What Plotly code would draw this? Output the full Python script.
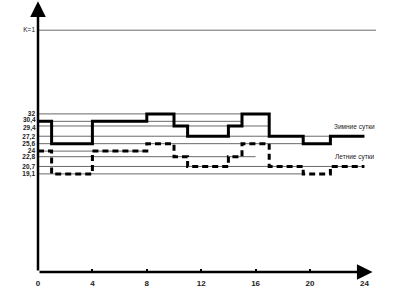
import plotly.graph_objects as go

# Data
hours = [0, 1, 4, 8, 10, 11, 14, 15, 17, 19.5, 21.5, 24]
winter = [30.4, 25.6, 30.4, 32, 29.4, 27.2, 29.4, 32, 27.2, 25.6, 27.2]
summer = [24, 19.1, 24, 25.6, 22.8, 20.7, 22.8, 25.6, 20.7, 19.1, 20.7]

grid_levels = [50, 32, 30.4, 29.4, 27.2, 25.6, 24, 22.8, 20.7, 19.1]
grid_ends = [24.85, 17, 15, 17, 24, 19.5, 8, 16, 24, 19.5]
# tick labels drawn by the axis
y_tick_vals = [50, 32, 27.2, 25.6, 24, 22.8, 20.7, 19.1]
y_tick_text = ["K=1", "<b>32</b>", "<b>27,2</b>", "<b>25,6</b>",
               "<b>24</b>", "<b>22,8</b>", "<b>20,7</b>", "<b>19,1</b>"]
# closely spaced labels placed with a small nudge so they do not collide
close_vals = [30.4, 29.4]
close_text = ["<b>30,4</b>", "<b>29,4</b>"]
close_nudge = [1.5, -2.0]
x_tick_vals = [0, 4, 8, 12, 16, 20, 24]
x_tick_text = ["<b>%d</b>" % v for v in x_tick_vals]

fig = go.Figure()

for lvl, end in zip(grid_levels, grid_ends):
    fig.add_trace(go.Scatter(x=[0, end], y=[lvl, lvl], mode="lines",
                             line=dict(color="#6a6a6a", width=1), hoverinfo="skip"))

fig.add_trace(go.Scatter(x=hours, y=summer + [summer[-1]], mode="lines", line_shape="hv",
                         line=dict(color="black", width=3, dash="6px,4px")))
fig.add_trace(go.Scatter(x=hours, y=winter + [winter[-1]], mode="lines", line_shape="hv",
                         line=dict(color="black", width=3)))

fnt = "Liberation Sans, Arial, sans-serif"

annotations = [
    dict(x=0, y=56.2, ax=0, ay=-2, xref="x", yref="y", axref="x", ayref="y",
         text="", showarrow=True, arrowhead=2, arrowwidth=2.5, arrowsize=1.25,
         arrowcolor="black"),
    dict(x=24.6, y=-2, ax=0, ay=-2, xref="x", yref="y", axref="x", ayref="y",
         text="", showarrow=True, arrowhead=2, arrowwidth=2.5, arrowsize=1.25,
         arrowcolor="black"),
    dict(x=-1.3, y=55.2, xref="x", yref="y", text="P, Мвт", showarrow=False,
         font=dict(family=fnt, size=6.5, color="#444")),
    dict(x=25.4, y=-4.3, xref="x", yref="y", text="t,ч", showarrow=False,
         font=dict(family=fnt, size=6.5, color="#444")),
    dict(x=23.3, y=29.2, xref="x", yref="y", text="Зимние сутки", showarrow=False,
         font=dict(family=fnt, size=6.5, color="#222")),
    dict(x=23.3, y=22.8, xref="x", yref="y", text="Летние сутки", showarrow=False,
         font=dict(family=fnt, size=6.5, color="#222")),
]
for v, t, n in zip(close_vals, close_text, close_nudge):
    annotations.append(dict(x=0, y=v, xref="paper", yref="y", text=t, showarrow=False,
                            xanchor="right", xshift=-1, yshift=n, borderpad=0,
                            font=dict(family=fnt, size=6.5, color="#222")))

fig.update_layout(
    width=403, height=294,
    margin=dict(l=38, r=15, t=0, b=22),
    paper_bgcolor="white", plot_bgcolor="white",
    showlegend=False,
    xaxis=dict(range=[0, 350 / 13.6], showgrid=False, zeroline=False, showline=False,
               tickvals=x_tick_vals, ticktext=x_tick_text, ticks="inside", ticklen=3,
               tickwidth=1.5, tickcolor="black", ticklabelstandoff=5,
               tickfont=dict(family=fnt, size=8, color="#222")),
    yaxis=dict(range=[-2, -2 + 272 / 4.65], showgrid=False, zeroline=False, showline=False,
               tickvals=y_tick_vals, ticktext=y_tick_text, ticks="", ticklabelstandoff=2,
               tickfont=dict(family=fnt, size=6.5, color="#222")),
    annotations=annotations,
)

fig.write_html("out.html")
